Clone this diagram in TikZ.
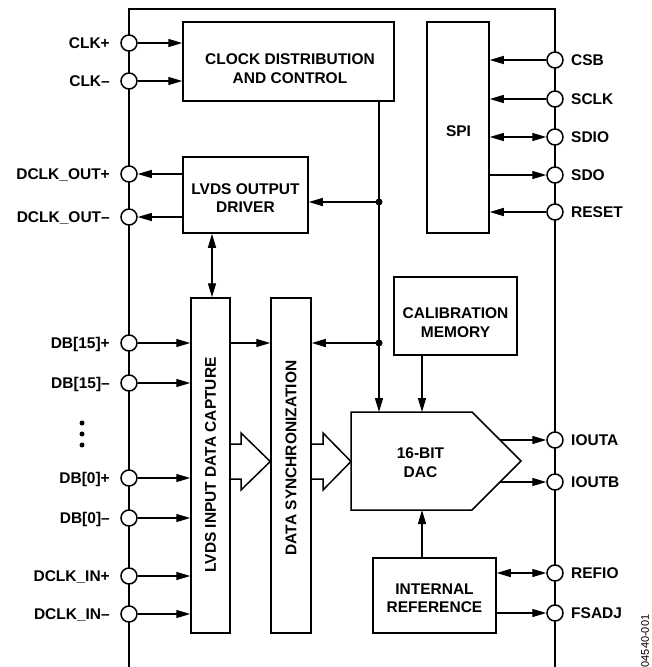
\documentclass[tikz,border=0pt]{standalone}
\usepackage{fontspec}
\setmainfont{Liberation Sans}
\usetikzlibrary{arrows.meta}
\begin{document}
\begin{tikzpicture}[x=1pt,y=-1pt,
  box/.style={draw, line width=1.5pt, inner sep=0pt},
  pin/.style={circle, draw, fill=white, line width=1.5pt, minimum size=16pt, inner sep=0pt},
  txt/.style={font=\fontsize{15.5}{18.5}\selectfont\bfseries, align=center, inner sep=0pt},
  lbl/.style={font=\fontsize{15.5}{18.5}\selectfont\bfseries, inner sep=0pt},
  arr/.style={line width=1.4pt, -{Triangle[length=14pt,width=8pt]}},
  arrb/.style={line width=1.4pt, {Triangle[length=14pt,width=8pt]}-{Triangle[length=14pt,width=8pt]}},
  wide/.style={line width=1.5pt, line join=miter},
  jdot/.style={circle, fill, inner sep=0pt, minimum size=7pt},
  edot/.style={circle, fill, inner sep=0pt, minimum size=5pt},
]
\useasboundingbox (0,0) rectangle (652,667);

% outer frame
\draw[line width=2.2pt] (129,670) -- (129,9) -- (555,9) -- (555,670);

% blocks
\node[box, minimum width=211pt, minimum height=79pt] (clk) at (288.5,61.5) {};
\node[txt] (clkt) at (290,68.5) {CLOCK DISTRIBUTION\\AND CONTROL};
\node[box, minimum width=62pt, minimum height=211pt] (spi) at (458,127.5) {};
\node[txt] (spit) at (458.5,131.5) {SPI};
\node[box, minimum width=125pt, minimum height=76pt] (drv) at (245.5,195) {};
\node[txt] (drvt) at (245.5,198) {LVDS OUTPUT\\DRIVER};
\node[box, minimum width=39pt, minimum height=335pt] (cap) at (210.5,465.5) {};
\node[txt, rotate=90] (capt) at (210.5,465) {LVDS INPUT DATA CAPTURE};
\node[box, minimum width=40pt, minimum height=335pt] (sync) at (291,465.5) {};
\node[txt, rotate=90] (synct) at (291,458) {DATA SYNCHRONIZATION};
\node[box, minimum width=123pt, minimum height=78pt] (cal) at (455.5,316) {};
\node[txt] (calt) at (455.5,322.5) {CALIBRATION\\MEMORY};
\node[box, minimum width=123pt, minimum height=75pt] (ref) at (434.5,595.5) {};
\node[txt] (reft) at (434.5,598) {INTERNAL\\REFERENCE};

% DAC
\coordinate (dA) at (351,412);
\coordinate (dB) at (472,412);
\coordinate (dC) at (521,461);
\coordinate (dD) at (472,510);
\coordinate (dE) at (351,510);
\draw[line width=1.5pt, line join=miter] (dA) -- (dB) -- (dC) -- (dD) -- (dE) -- cycle;
\node[txt] (dac) at (420.5,462.5) {16-BIT\\DAC};

% left pins
\foreach \n/\y/\t in {clkp/43/CLK+, clkm/81/CLK–, doutp/174/DCLK\_OUT+, doutm/217/DCLK\_OUT–,
  db15p/343/{DB[15]+}, db15m/383/{DB[15]–}, db0p/478/{DB[0]+}, db0m/518/{DB[0]–},
  dinp/576/DCLK\_IN+, dinm/614/DCLK\_IN–}{
  \node[pin] (\n) at (129,\y) {};
  \node[lbl, anchor=base east] (\n l) at (110,\y+5.5) {\t};
}
% right pins
\foreach \n/\y/\t in {csb/60/CSB, sclk/99/SCLK, sdio/137/SDIO, sdo/175/SDO, reset/212/RESET,
  iouta/440/IOUTA, ioutb/482/IOUTB, refio/573/REFIO, fsadj/613/FSADJ}{
  \node[pin] (\n) at (555,\y) {};
  \node[lbl, anchor=base west] (\n l) at (571,\y+5.5) {\t};
}

% ellipsis dots
\node[edot] (e1) at (82,423) {};
\node[edot] (e2) at (82,434) {};
\node[edot] (e3) at (82,445) {};

% clock inputs
\draw[arr] (clkp.east) -- (clkp.east -| clk.west);
\draw[arr] (clkm.east) -- (clkm.east -| clk.west);
% dclk out
\draw[arr] (doutp.east -| drv.west) -- (doutp.east);
\draw[arr] (doutm.east -| drv.west) -- (doutm.east);
% data inputs
\foreach \n in {db15p, db15m, db0p, db0m, dinp, dinm}
  \draw[arr] (\n.east) -- (\n.east -| cap.west);

% SPI
\draw[arr] (csb.west) -- (csb.west -| spi.east);
\draw[arr] (sclk.west) -- (sclk.west -| spi.east);
\draw[arrb] (sdio.west -| spi.east) -- (sdio.west);
\draw[arr] (sdo.west -| spi.east) -- (sdo.west);
\draw[arr] (reset.west) -- (reset.west -| spi.east);

% clock distribution bus
\coordinate (j1) at (379,202);
\coordinate (j2) at (379,343);
\draw[arr] (clk.south -| j1) -- (j1 |- dA);
\draw[arr] (j1) -- (j1 -| drv.east);
\draw[arr] (j2) -- (j2 -| sync.east);
\node[jdot] (j1d) at (j1) {};
\node[jdot] (j2d) at (j2) {};

% capture -> sync
\draw[arr] (cap.east |- j2) -- (sync.west |- j2);
% driver <-> capture
\coordinate (vx1) at (212,0);
\draw[arrb] (drv.south -| vx1) -- (cap.north -| vx1);

% calibration and reference to DAC
\coordinate (vx2) at (422,0);
\draw[arr] (cal.south -| vx2) -- (vx2 |- dA);
\draw[arr] (ref.north -| vx2) -- (vx2 |- dE);

% DAC outputs
\coordinate (oa) at (500,440);
\coordinate (ob) at (500,482);
\draw[arr] (oa) -- (iouta.west);
\draw[arr] (ob) -- (ioutb.west);

% reference pins
\draw[arrb] (ref.east |- refio) -- (refio.west);
\draw[arr] (ref.east |- fsadj) -- (fsadj.west);

% wide bus arrows
\draw[wide] (cap.east |- 0,444) -- (241,444) -- (241,433) -- (sync.west |- 0,461.5) -- (241,490) -- (241,479) -- (cap.east |- 0,479);
\draw[wide] (sync.east |- 0,444) -- (323,444) -- (323,433) -- (dA |- 0,461.5) -- (323,490) -- (323,479) -- (sync.east |- 0,479);

% figure number
\node[font=\fontsize{11}{13}\selectfont, rotate=90, inner sep=0pt] (fig) at (645,641) {04540-001};
\end{tikzpicture}
\end{document}
